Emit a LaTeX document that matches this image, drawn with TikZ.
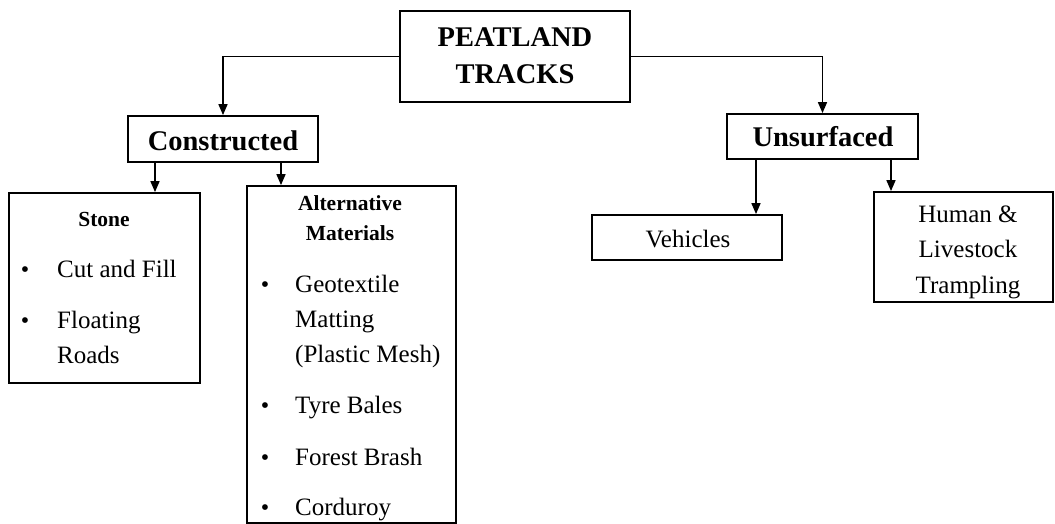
\documentclass[tikz,border=0pt]{standalone}
\usepackage{fontspec}
\setmainfont{Liberation Serif}
\usetikzlibrary{arrows.meta}
\begin{document}
\begin{tikzpicture}[x=1pt,y=-1pt,
  box/.style={draw=black, line width=1.8pt, fill=white, inner sep=0pt},
  arr/.style={line width=1.6pt, -{Stealth[length=11pt,width=9pt,inset=0pt]}},
  head/.style={font=\fontsize{28.5}{34}\selectfont\bfseries, anchor=base, inner sep=0pt},
  subhead/.style={font=\fontsize{21.5}{26}\selectfont\bfseries, anchor=base, inner sep=0pt},
  txt/.style={font=\fontsize{25}{29}\selectfont, anchor=base west, inner sep=0pt},
  ctxt/.style={font=\fontsize{25}{29}\selectfont, anchor=base, inner sep=0pt},
  bul/.style={font=\fontsize{24}{28}\selectfont, anchor=base, inner sep=0pt}
]
\useasboundingbox (0,0) rectangle (1055,524);
% boxes
\node[box, minimum width=230pt, minimum height=91pt] (top) at (515,56.5) {};
\node[box, minimum width=190pt, minimum height=46pt] (con) at (223,139) {};
\node[box, minimum width=191pt, minimum height=45pt] (uns) at (822.5,136.5) {};
\node[box, minimum width=191pt, minimum height=190pt] (sto) at (104.5,288) {};
\node[box, minimum width=209pt, minimum height=337pt] (alt) at (351.5,354.5) {};
\node[box, minimum width=190pt, minimum height=45pt] (veh) at (687,237.5) {};
\node[box, minimum width=179pt, minimum height=110pt] (hum) at (963.5,247) {};
% texts
\node[head] (t1) at (515,47) {PEATLAND};
\node[head] (t2) at (515,84) {TRACKS};
\node[head] (tc) at (223,150) {Constructed};
\node[head] (tu) at (823,147) {Unsurfaced};
\node[subhead] (ts) at (104,226) {Stone};
\node[bul] (b1) at (25,277) {•};
\node[txt] (s1) at (57,277) {Cut and Fill};
\node[bul] (b2) at (25,328) {•};
\node[txt] (s2) at (57,328) {Floating};
\node[txt] (s3) at (57,363) {Roads};
\node[subhead] (ta1) at (350,210) {Alternative};
\node[subhead] (ta2) at (350,240) {Materials};
\node[bul] (b3) at (265,292) {•};
\node[txt] (a1) at (295,292) {Geotextile};
\node[txt] (a2) at (295,327) {Matting};
\node[txt] (a3) at (295,362) {(Plastic Mesh)};
\node[bul] (b4) at (265,413) {•};
\node[txt] (a4) at (295,413) {Tyre Bales};
\node[bul] (b5) at (265,465) {•};
\node[txt] (a5) at (295,465) {Forest Brash};
\node[bul] (b6) at (265,515) {•};
\node[txt] (a6) at (295,515) {Corduroy};
\node[ctxt] (tv) at (688,247) {Vehicles};
\node[ctxt] (h1) at (968,222) {Human \&};
\node[ctxt] (h2) at (968,257) {Livestock};
\node[ctxt] (h3) at (968,293) {Trampling};
% connectors
\draw[arr] (top.west) -| (con.north);
\draw[arr] (top.east) -| (uns.north);
\draw[arr] (con.south -| 155,0) -- (sto.north -| 155,0);
\draw[arr] (con.south -| 281,0) -- (alt.north -| 281,0);
\draw[arr] (uns.south -| 756,0) -- (veh.north -| 756,0);
\draw[arr] (uns.south -| 891,0) -- (hum.north -| 891,0);
\end{tikzpicture}
\end{document}
